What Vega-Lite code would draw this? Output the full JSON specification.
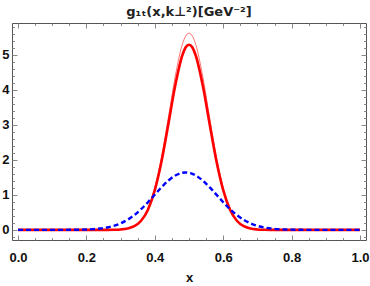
{
  "$schema": "https://vega.github.io/schema/vega-lite/v6.json",
  "width": 354,
  "height": 217,
  "autosize": {"type": "none"},
  "padding": {"left": 12, "top": 23, "right": 4, "bottom": 46},
  "background": "white",
  "title": {"text": "g₁ₜ(x,k⊥²)[GeV⁻²]", "font": "DejaVu Sans", "fontSize": 13, "fontWeight": "bold", "color": "#222", "offset": 4},
  "config": {
    "view": {"stroke": "#555", "strokeWidth": 1},
    "axis": {"grid": false, "domain": false, "tickColor": "#888", "tickWidth": 1, "labelFont": "Liberation Sans", "labelFontWeight": "bold", "labelFontSize": 13, "labelColor": "#111", "labelFlush": false, "labelOverlap": false, "titleFont": "Liberation Sans", "titleFontWeight": "bold", "titleFontSize": 13, "titleColor": "#111"}
  },
  "data": {"values": [
    {"x": 0, "thick": 0, "thin": 0, "blue": 0},
    {"x": 0.05, "thick": 0, "thin": 0, "blue": 0},
    {"x": 0.10, "thick": 0, "thin": 0, "blue": 0},
    {"x": 0.15, "thick": 0, "thin": 0, "blue": 0.001},
    {"x": 0.18, "thick": 0, "thin": 0, "blue": 0.005},
    {"x": 0.20, "thick": 0, "thin": 0, "blue": 0.010},
    {"x": 0.22, "thick": 0, "thin": 0, "blue": 0.020},
    {"x": 0.24, "thick": 0, "thin": 0, "blue": 0.038},
    {"x": 0.26, "thick": 0, "thin": 0, "blue": 0.067},
    {"x": 0.28, "thick": 0.003, "thin": 0.003, "blue": 0.114},
    {"x": 0.30, "thick": 0.011, "thin": 0.012, "blue": 0.185},
    {"x": 0.32, "thick": 0.036, "thin": 0.038, "blue": 0.286},
    {"x": 0.34, "thick": 0.103, "thin": 0.109, "blue": 0.421},
    {"x": 0.36, "thick": 0.259, "thin": 0.275, "blue": 0.591},
    {"x": 0.38, "thick": 0.577, "thin": 0.613, "blue": 0.790},
    {"x": 0.40, "thick": 1.136, "thin": 1.207, "blue": 1.006},
    {"x": 0.42, "thick": 1.976, "thin": 2.099, "blue": 1.220},
    {"x": 0.44, "thick": 3.041, "thin": 3.231, "blue": 1.410},
    {"x": 0.46, "thick": 4.136, "thin": 4.394, "blue": 1.553},
    {"x": 0.48, "thick": 4.974, "thin": 5.284, "blue": 1.630},
    {"x": 0.49, "thick": 5.209, "thin": 5.534, "blue": 1.640},
    {"x": 0.50, "thick": 5.29, "thin": 5.62, "blue": 1.630},
    {"x": 0.51, "thick": 5.209, "thin": 5.534, "blue": 1.601},
    {"x": 0.52, "thick": 4.974, "thin": 5.284, "blue": 1.553},
    {"x": 0.54, "thick": 4.136, "thin": 4.394, "blue": 1.410},
    {"x": 0.56, "thick": 3.041, "thin": 3.231, "blue": 1.220},
    {"x": 0.58, "thick": 1.976, "thin": 2.099, "blue": 1.006},
    {"x": 0.60, "thick": 1.136, "thin": 1.207, "blue": 0.790},
    {"x": 0.62, "thick": 0.577, "thin": 0.613, "blue": 0.591},
    {"x": 0.64, "thick": 0.259, "thin": 0.275, "blue": 0.421},
    {"x": 0.66, "thick": 0.103, "thin": 0.109, "blue": 0.286},
    {"x": 0.68, "thick": 0.036, "thin": 0.038, "blue": 0.185},
    {"x": 0.70, "thick": 0.011, "thin": 0.012, "blue": 0.114},
    {"x": 0.72, "thick": 0.003, "thin": 0.003, "blue": 0.067},
    {"x": 0.74, "thick": 0, "thin": 0, "blue": 0.038},
    {"x": 0.76, "thick": 0, "thin": 0, "blue": 0.020},
    {"x": 0.78, "thick": 0, "thin": 0, "blue": 0.010},
    {"x": 0.80, "thick": 0, "thin": 0, "blue": 0.005},
    {"x": 0.83, "thick": 0, "thin": 0, "blue": 0.001},
    {"x": 0.85, "thick": 0, "thin": 0, "blue": 0},
    {"x": 0.90, "thick": 0, "thin": 0, "blue": 0},
    {"x": 0.95, "thick": 0, "thin": 0, "blue": 0},
    {"x": 1.00, "thick": 0, "thin": 0, "blue": 0}
  ]},
  "layer": [
    {
      "mark": {"type": "line", "strokeOpacity": 0, "interpolate": "monotone"},
      "encoding": {
        "x": {"field": "x", "type": "quantitative", "scale": {"domain": [-0.0175, 1.0175], "nice": false, "zero": false},
              "axis": {"orient": "top", "values": [0.05,0.1,0.15,0.25,0.3,0.35,0.45,0.5,0.55,0.65,0.7,0.75,0.85,0.9,0.95], "tickSize": -2.5, "labels": false, "title": null}},
        "y": {"field": "blue", "type": "quantitative", "scale": {"domain": [-0.29, 5.91], "nice": false, "zero": false},
              "axis": {"orient": "right", "values": [-0.2,0.2,0.4,0.6,0.8,1.2,1.4,1.6,1.8,2.2,2.4,2.6,2.8,3.2,3.4,3.6,3.8,4.2,4.4,4.6,4.8,5.2,5.4,5.6,5.8], "tickSize": -2.5, "labels": false, "title": null}}
      }
    },
    {
      "mark": {"type": "line", "color": "#ff0000", "strokeWidth": 1, "strokeOpacity": 0.55, "interpolate": "monotone"},
      "encoding": {
        "x": {"field": "x", "type": "quantitative", "scale": {"domain": [-0.0175, 1.0175], "nice": false, "zero": false},
              "axis": {"orient": "bottom", "values": [0,0.2,0.4,0.6,0.8,1.0], "format": ".1f", "tickSize": -5, "labelPadding": 16, "title": "x", "titlePadding": 7}},
        "y": {"field": "thin", "type": "quantitative", "scale": {"domain": [-0.29, 5.91], "nice": false, "zero": false},
              "axis": {"orient": "left", "values": [0,1,2,3,4,5], "format": "d", "tickSize": -5, "labelPadding": 8, "title": null}}
      }
    },
    {
      "mark": {"type": "line", "color": "#ff0000", "strokeWidth": 2.6, "interpolate": "monotone"},
      "encoding": {
        "x": {"field": "x", "type": "quantitative", "scale": {"domain": [-0.0175, 1.0175], "nice": false, "zero": false},
              "axis": {"orient": "bottom", "values": [0.05,0.1,0.15,0.25,0.3,0.35,0.45,0.5,0.55,0.65,0.7,0.75,0.85,0.9,0.95], "tickSize": -2.5, "labels": false, "title": null}},
        "y": {"field": "thick", "type": "quantitative", "scale": {"domain": [-0.29, 5.91], "nice": false, "zero": false},
              "axis": {"orient": "left", "values": [-0.2,0.2,0.4,0.6,0.8,1.2,1.4,1.6,1.8,2.2,2.4,2.6,2.8,3.2,3.4,3.6,3.8,4.2,4.4,4.6,4.8,5.2,5.4,5.6,5.8], "tickSize": -2.5, "labels": false, "title": null}}
      }
    },
    {
      "mark": {"type": "line", "color": "#0000ff", "strokeWidth": 2.4, "strokeDash": [5, 3], "interpolate": "monotone"},
      "encoding": {
        "x": {"field": "x", "type": "quantitative", "scale": {"domain": [-0.0175, 1.0175], "nice": false, "zero": false},
              "axis": {"orient": "top", "values": [0,0.2,0.4,0.6,0.8,1.0], "tickSize": -5, "labels": false, "title": null}},
        "y": {"field": "blue", "type": "quantitative", "scale": {"domain": [-0.29, 5.91], "nice": false, "zero": false},
              "axis": {"orient": "right", "values": [0,1,2,3,4,5], "tickSize": -5, "labels": false, "title": null}}
      }
    }
  ],
  "resolve": {"axis": {"x": "independent", "y": "independent"}}
}
